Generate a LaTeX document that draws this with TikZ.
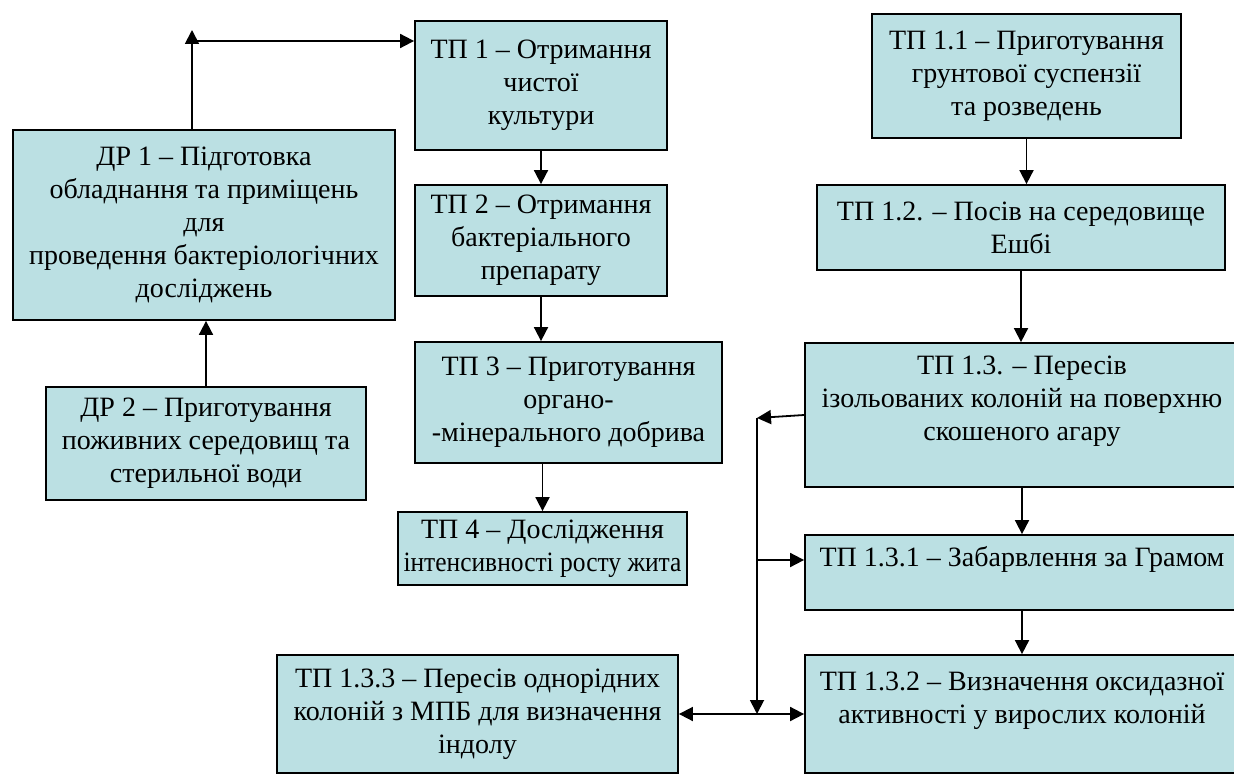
\documentclass[tikz,border=0pt]{standalone}
\usepackage{fontspec}
\setmainfont{Liberation Serif}
\usetikzlibrary{arrows.meta}
\definecolor{stagefill}{RGB}{187,224,227}

\begin{document}
\begin{tikzpicture}[x=0.5pt, y=-0.5pt, line width=0.9pt,
  >={Triangle[length=7pt, width=7pt]},
  stage/.style={draw, fill=stagefill, align=center, inner sep=0pt,
    font=\fontsize{14}{16.5}\selectfont}]
  \useasboundingbox (0,0) rectangle (1234,775);

  % left column
  \node[stage, minimum width=191pt, minimum height=95pt] (dr1) at (204,225)
    {ДР 1 – Підготовка\\ обладнання та приміщень\\ для\\
     проведення бактеріологічних\\ досліджень};
  \node[stage, minimum width=160pt, minimum height=56.5pt] (dr2) at (206,443.5)
    {ДР 2 – Приготування\\ поживних середовищ та\\ стерильної води};

  % middle column
  \node[stage, minimum width=126pt, minimum height=64.5pt] (tp1) at (541,85.5)
    {ТП 1 – Отримання\\ чистої\\ культури};
  \node[stage, minimum width=126pt, minimum height=55.5pt] (tp2) at (541,240.5)
    {ТП 2 – Отримання\\ бактеріального\\ препарату};
  \node[stage, minimum width=153.5pt, minimum height=60.5pt] (tp3) at (568.5,402.5)
    {ТП 3 – Приготування\\ органо-\\ -мінерального добрива};
  \node[stage, minimum width=144.5pt, minimum height=36.5pt] (tp4) at (542.5,548.5)
    {ТП 4 – Дослідження\\ \scalebox{0.91}[1]{інтенсивності росту жита}};

  % right column
  \node[stage, minimum width=154.5pt, minimum height=62pt] (tp11) at (1026.5,76)
    {ТП 1.1 – Приготування\\ грунтової суспензії\\ та розведень};
  \node[stage, minimum width=204pt, minimum height=42.5pt] (tp12) at (1021,227.5)
    {ТП 1.2. – Посів на середовище\\ Ешбі};
  \node[stage, minimum width=217pt, minimum height=72pt] (tp13) at (1022,415)
    {ТП 1.3. – Пересів\\ ізольованих колоній на поверхню\\ скошеного агару\\ \mbox{}};
  \node[stage, minimum width=217pt, minimum height=37.5pt] (tp131) at (1022,572.5)
    {ТП 1.3.1 – Забарвлення за Грамом\\ \mbox{}};
  \node[stage, minimum width=217pt, minimum height=59pt] (tp132) at (1022,714)
    {ТП 1.3.2 – Визначення оксидазної\\ активності у вирослих колоній\\ \mbox{}};
  \node[stage, minimum width=200.5pt, minimum height=59pt] (tp133) at (477.5,714)
    {ТП 1.3.3 – Пересів однорідних\\ колоній з МПБ для визначення\\ індолу};

  \coordinate (top) at (192,30);
  \coordinate (corner) at (192,41);
  \coordinate (split) at (757,418);
  \coordinate (tap) at (757,560);

  \path[->]
    (top |- dr1.north) edge (top)
    (corner) edge (corner -| tp1.west)
    (dr2.north) edge (dr2.north |- dr1.south)
    (tp1.south) edge (tp2.north)
    (tp2.south) edge (tp2.south |- tp3.north)
    (tp4.north |- tp3.south) edge (tp4.north)
    (tp11.south) edge (tp11.south |- tp12.north)
    (tp12.south) edge (tp12.south |- tp13.north)
    (tp13.south) edge (tp131.north)
    (tp131.south) edge (tp132.north)
    (tp13.west) edge (split)
    (split) edge (split |- tp132.west)
    (tap) edge (tap -| tp131.west);
  \path[<->] (tp133.east) edge (tp132.west);
\end{tikzpicture}
\end{document}
